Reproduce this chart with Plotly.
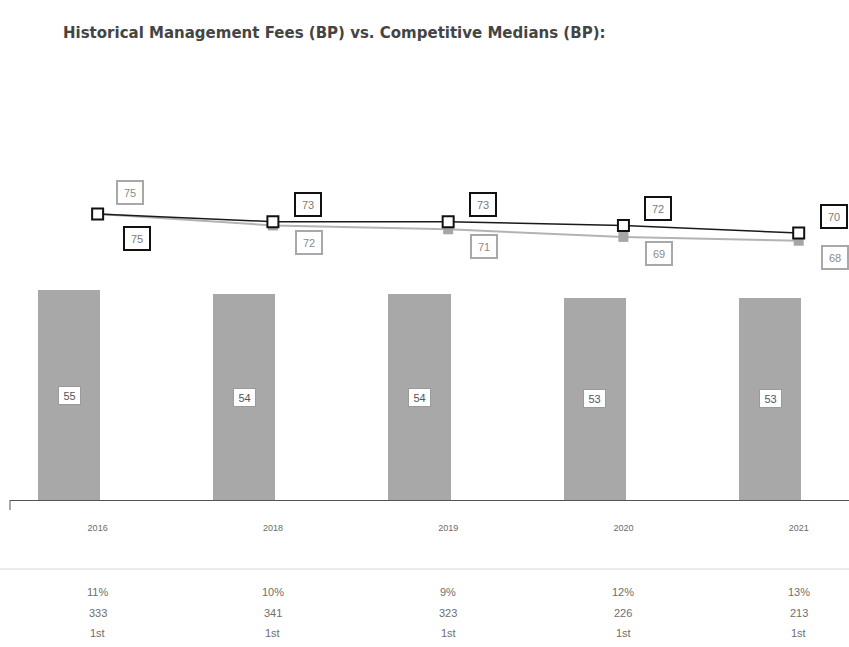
import plotly.graph_objects as go

years = ["2016", "2018", "2019", "2020", "2021"]
fund_fees = [55, 54, 54, 53, 53]
fee_line = [75, 73, 73, 72, 70]
median_line = [75, 72, 71, 69, 68]
row_pct = ["11%", "10%", "9%", "12%", "13%"]
row_count = ["333", "341", "323", "226", "213"]
row_rank = ["1st", "1st", "1st", "1st", "1st"]

TEXT = "#6e6e6e"
FONT = "Liberation Sans, Arial, sans-serif"

fig = go.Figure()

fig.add_trace(go.Bar(
    x=years, y=fund_fees, marker=dict(color="#a8a8a8", line=dict(width=0)),
    width=0.355, xaxis="x", yaxis="y", hoverinfo="skip"))

fig.add_trace(go.Scatter(
    x=years, y=median_line, mode="lines+markers", xaxis="x2", yaxis="y",
    line=dict(color="#b3b3b3", width=2),
    marker=dict(symbol="square", size=10, color="#a6a6a6")))

fig.add_trace(go.Scatter(
    x=years, y=fee_line, mode="lines+markers", xaxis="x2", yaxis="y",
    line=dict(color="#1a1a1a", width=1.5),
    marker=dict(symbol="square", size=11, color="white",
                line=dict(color="#111111", width=2))))

ann = []
for i, v in enumerate(fund_fees):
    ann.append(dict(x=i, y=v / 2, xref="x", yref="y", text=str(v), showarrow=False,
                    font=dict(size=11, color="#555555", family=FONT),
                    width=17, height=13,
                    bgcolor="white", bordercolor="#9a9a9a", borderwidth=1, borderpad=2))

for i, (f, m) in enumerate(zip(fee_line, median_line)):
    if i == 0:
        f_shift, m_shift, fx, mx = -24, 22, 39, 32
    else:
        f_shift, m_shift, fx, mx = 17, -17, 35, 36
    ann.append(dict(x=i, y=f, xref="x2", yref="y", text=str(f), showarrow=False,
                    xshift=fx, yshift=f_shift, width=18, height=15,
                    font=dict(size=11, color="#7a7a7a", family=FONT),
                    bgcolor="white", bordercolor="#111111", borderwidth=2, borderpad=3))
    ann.append(dict(x=i, y=m, xref="x2", yref="y", text=str(m), showarrow=False,
                    xshift=mx, yshift=m_shift, width=18, height=15,
                    font=dict(size=11, color="#8a8a8a", family=FONT),
                    bgcolor="white", bordercolor="#a8a8a8", borderwidth=2, borderpad=3))

for i, (a, b, c) in enumerate(zip(row_pct, row_count, row_rank)):
    for txt, dy in ((a, -92), (b, -113), (c, -133)):
        ann.append(dict(x=i, y=0, xref="x2", yref="paper", text=txt, showarrow=False,
                        yshift=dy, yanchor="middle",
                        font=dict(size=11, color=TEXT, family=FONT)))

PH = 440.0
shapes = [
    dict(type="line", xref="paper", yref="paper", x0=0, x1=0, y0=0, y1=-10 / PH,
         line=dict(color="#555555", width=1)),
    dict(type="line", xref="paper", yref="paper", x0=-0.02, x1=1.0, y0=-69 / PH, y1=-69 / PH,
         line=dict(color="#ebebeb", width=2)),
]

x_lo, x_hi = -0.337, 4.45
off = 0.163

W, H = 849, 647
fig.update_layout(
    width=W, height=H,
    margin=dict(l=10, r=0, t=60, b=147),
    paper_bgcolor="white", plot_bgcolor="white",
    showlegend=False, bargap=0,
    font=dict(family=FONT, color=TEXT),
    title=dict(text="<b>Historical Management Fees (BP) vs. Competitive Medians (BP):</b>",
               x=63 / W, xanchor="left", xref="container",
               y=1 - 33 / H, yanchor="middle", yref="container",
               font=dict(size=15, color="#444444", family="DejaVu Sans, sans-serif")),
    xaxis=dict(type="category", range=[x_lo, x_hi], showticklabels=False,
               showline=True, linecolor="#555555", linewidth=1, ticks="",
               showgrid=False, zeroline=False, fixedrange=True),
    xaxis2=dict(type="category", overlaying="x", side="bottom",
                range=[x_lo - off, x_hi - off], showline=False, ticks="",
                showgrid=False, zeroline=False,
                tickfont=dict(size=9, color="#6a6a6a", family=FONT),
                ticklabelstandoff=21),
    yaxis=dict(range=[0, PH / 3.813], visible=False, showgrid=False, zeroline=False),
    annotations=ann, shapes=shapes,
)

fig.write_html("out.html", config={"displayModeBar": False},
               post_script="document.body.style.margin='0';")
